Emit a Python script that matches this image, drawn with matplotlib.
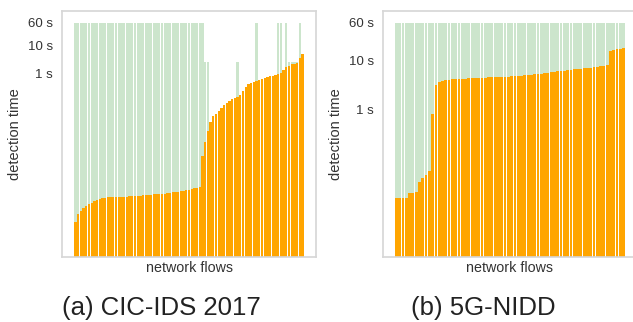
import matplotlib
matplotlib.use("Agg")
import matplotlib.pyplot as plt
import numpy as np

plt.rcParams["font.family"] = ["Liberation Sans", "DejaVu Sans"]

# detection time per flow (seconds), sorted ascending
cic_detect = [
    6.3e-6, 1.26e-5, 1.58e-5, 1.91e-5, 2.24e-5, 2.63e-5, 3.02e-5, 3.39e-5, 3.80e-5, 4.17e-5,
    4.47e-5, 4.57e-5, 4.68e-5, 4.68e-5, 4.68e-5, 4.79e-5, 4.79e-5, 4.79e-5, 4.90e-5, 4.90e-5,
    5.01e-5, 5.13e-5, 5.25e-5, 5.25e-5, 5.37e-5, 5.50e-5, 5.62e-5, 5.62e-5, 5.75e-5, 5.89e-5,
    6.03e-5, 6.17e-5, 6.17e-5, 6.31e-5, 6.46e-5, 6.61e-5, 6.92e-5, 7.08e-5, 7.41e-5, 7.59e-5,
    7.94e-5, 8.32e-5, 8.71e-5, 9.12e-5, 9.55e-5, 1.00e-4, 1.10e-4, 1.26e-3, 3.98e-3, 1.0e-2,
    2.0e-2, 3.16e-2, 3.98e-2, 5.01e-2, 6.31e-2, 7.94e-2, 9.55e-2, 0.112, 0.132, 0.141,
    0.151, 0.178, 0.251, 0.331, 0.417, 0.479, 0.525, 0.562, 0.617, 0.661,
    0.708, 0.759, 0.813, 0.851, 0.912, 1.0, 1.07, 1.35, 1.66, 1.91,
    2.09, 2.19, 2.40, 3.55, 5.01,
]
# flow duration (seconds, capped at the 60 s window); 0 = no bar
cic_window = [60] * 48 + [2.6, 2.6] + [0] * 10 + [2.6] + [0] * 6 + [60] + [0] * 7 + [60, 60, 0, 60, 2.6, 2.6, 2.6, 2.6, 60, 0]

nidd_detect = [
    0.0148, 0.0148, 0.0149, 0.0150, 0.0182, 0.0186, 0.0191, 0.0316, 0.0380, 0.0437,
    0.0537, 0.79, 3.16, 3.55, 3.80, 3.98, 4.03, 4.07, 4.12, 4.17,
    4.20, 4.24, 4.28, 4.32, 4.36, 4.39, 4.42, 4.45, 4.48, 4.52,
    4.55, 4.58, 4.61, 4.64, 4.68, 4.71, 4.75, 4.79, 4.85, 4.92,
    5.00, 5.08, 5.17, 5.27, 5.37, 5.48, 5.60, 5.72, 5.85, 5.97,
    6.08, 6.20, 6.31, 6.43, 6.55, 6.67, 6.79, 6.92, 7.05, 7.18,
    7.32, 7.50, 7.70, 7.85, 8.00, 15.8, 16.4, 17.0, 17.6, 18.2,
]
nidd_window = [60] * len(nidd_detect)

ytick_vals = [1, 10, 60]
ytick_labels = ["1 s", "10 s", "60 s"]

fig = plt.figure(figsize=(6.33, 3.22), dpi=100)
ax1 = fig.add_axes([62 / 633, 1 - 257 / 322, 254 / 633, 246 / 322])
ax2 = fig.add_axes([383 / 633, 1 - 257 / 322, 253 / 633, 246 / 322])


def draw(ax, detect, window, ylim):
    x = np.arange(len(detect))
    ax.bar(x, window, width=0.85, color="green", alpha=0.2, linewidth=0)
    ax.bar(x, detect, width=0.85, color="orange", linewidth=0)
    ax.set_yscale("log")
    ax.set_ylim(*ylim)
    ax.set_yticks(ytick_vals)
    ax.set_yticklabels(ytick_labels)
    ax.minorticks_off()
    ax.set_xticks([])
    ax.tick_params(axis="y", length=0, pad=6.5, labelsize=9.5, labelcolor="#333333")
    ax.set_ylabel("detection time", fontsize=10.5, color="#333333", labelpad=4)
    ax.set_xlabel("network flows", fontsize=10.3, color="#333333", labelpad=3)
    for s in ax.spines.values():
        s.set_color("#d6d6d6")
        s.set_linewidth(1.2)


draw(ax1, cic_detect, cic_window, (3.8e-7, 155))
draw(ax2, nidd_detect, nidd_window, (8.9e-4, 105))
ax1.set_xlim(-5, len(cic_detect) + 4)
ax2.set_xlim(-4.07, 72.76)

fig.text(161 / 633, 1 - 308 / 322, "(a) CIC-IDS 2017", fontsize=18.5, ha="center", va="center", color="#222222")
fig.text(483 / 633, 1 - 308 / 322, "(b) 5G-NIDD", fontsize=18.5, ha="center", va="center", color="#222222")

fig.savefig("out.png", dpi=100)
